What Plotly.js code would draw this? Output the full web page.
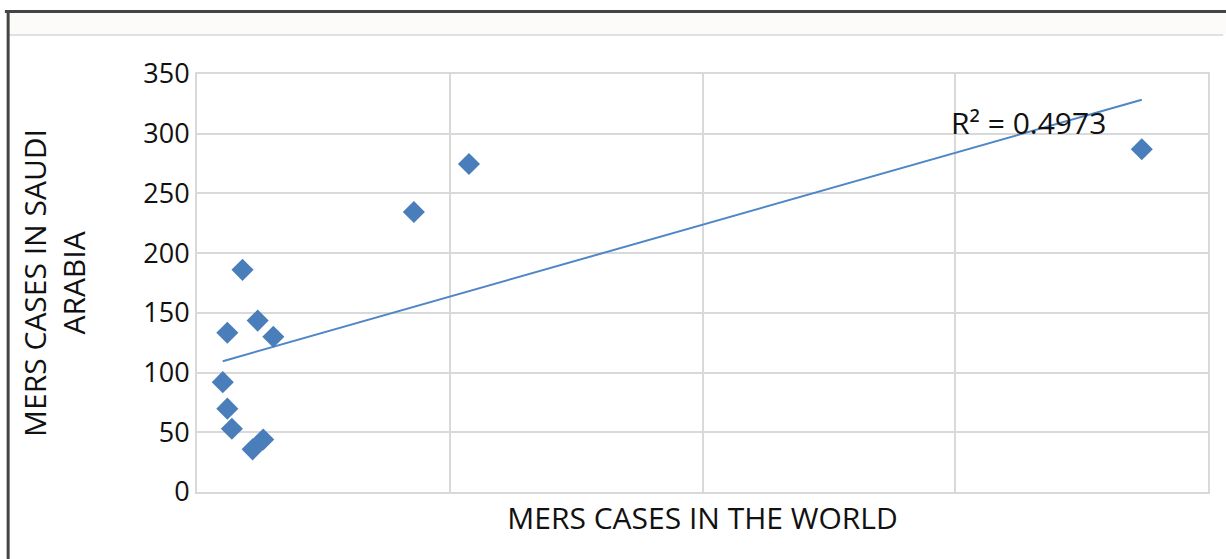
<!DOCTYPE html>
<html>
<head>
<meta charset="utf-8">
<script src="https://cdn.plot.ly/plotly-3.0.1.min.js"></script>
<style>
html,body{margin:0;padding:0;background:#fff;}
#chart{width:1226px;height:559px;}
</style>
</head>
<body>
<div id="chart"></div>
<script>
// Data
var worldCases = [90, 120, 60, 151, 51, 60, 69, 110, 131, 429, 538, 1869];
var saudiCases = [186, 143.5, 133.4, 130, 92, 69.8, 53, 35.7, 44, 234.5, 274.7, 287];
var yTicks = [0, 50, 100, 150, 200, 250, 300, 350];
var xTitle = "MERS CASES IN THE WORLD";
var yTitle = "MERS CASES IN SAUDI<br>ARABIA";
var r2Label = "R² = 0.4973";

// Linear least-squares trendline from the data
var n = worldCases.length, mx = 0, my = 0;
for (var i = 0; i < n; i++) { mx += worldCases[i]; my += saudiCases[i]; }
mx /= n; my /= n;
var sxy = 0, sxx = 0;
for (var i = 0; i < n; i++) { sxy += (worldCases[i]-mx)*(saudiCases[i]-my); sxx += (worldCases[i]-mx)*(worldCases[i]-mx); }
var slope = sxy / sxx, icpt = my - slope*mx;
var xmin = Math.min.apply(null, worldCases), xmax = Math.max.apply(null, worldCases);
var trendX = [xmin, xmax];
var trendY = [icpt + slope*xmin, icpt + slope*xmax];

var FONT = "Open Sans, Noto Sans, sans-serif";
var blue = "#4a7ebb";

var traces = [
  {x: trendX, y: trendY, mode: "lines", type: "scatter", line: {color: "#4f86c6", width: 2}, hoverinfo: "skip"},
  {x: worldCases, y: saudiCases, mode: "markers", type: "scatter",
   marker: {symbol: "diamond", size: 17, color: blue, line: {width: 0}}}
];

var layout = {
  width: 1226, height: 559,
  margin: {l: 197, r: 18, t: 74, b: 67, pad: 0},
  paper_bgcolor: "#fff", plot_bgcolor: "#fff",
  showlegend: false,
  font: {family: FONT, color: "#111"},
  xaxis: {
    range: [0, 2000], dtick: 500, tick0: 0, showticklabels: false, ticks: "",
    showgrid: true, gridcolor: "#d9d9d9", gridwidth: 2, zeroline: false,
    showline: true, linecolor: "#d9d9d9", linewidth: 2, mirror: true,
    title: {text: xTitle, font: {family: FONT, size: 30, color: "#111"}, standoff: 15}
  },
  yaxis: {
    range: [0, 350], tickvals: yTicks, ticks: "", ticklen: 0,
    tickfont: {family: FONT, size: 27, color: "#111"},
    showgrid: true, gridcolor: "#d9d9d9", gridwidth: 2, zeroline: false,
    showline: true, linecolor: "#d9d9d9", linewidth: 2, mirror: true,
    title: {text: yTitle, font: {family: FONT, size: 30, color: "#111"}, standoff: 49}
  },
  annotations: [
    {text: r2Label, xref: "paper", yref: "paper", x: 0.744, y: 0.883, xanchor: "left", yanchor: "middle",
     showarrow: false, font: {family: FONT, size: 30, color: "#111"}}
  ],
  shapes: [
    // top band
    {type: "rect", xref: "paper", yref: "paper", x0: -0.186, x1: 1.02, y0: 1.0957, y1: 1.148, fillcolor: "#fcfbf9", line: {width: 0}, layer: "below"},
    {type: "line", xref: "paper", yref: "paper", x0: -0.186, x1: 1.015, y0: 1.0933, y1: 1.0933, line: {color: "#e0e0e0", width: 2}},
    // frame
    {type: "line", xref: "paper", yref: "paper", x0: -0.1868, x1: -0.1868, y0: 1.148, y1: -0.2, line: {color: "#444", width: 3}},
    {type: "line", xref: "paper", yref: "paper", x0: -0.19, x1: 1.02, y0: 1.1495, y1: 1.1495, line: {color: "#444", width: 3}}
  ]
};

Plotly.newPlot("chart", traces, layout, {displayModeBar: false, staticPlot: true});
</script>
</body>
</html>
